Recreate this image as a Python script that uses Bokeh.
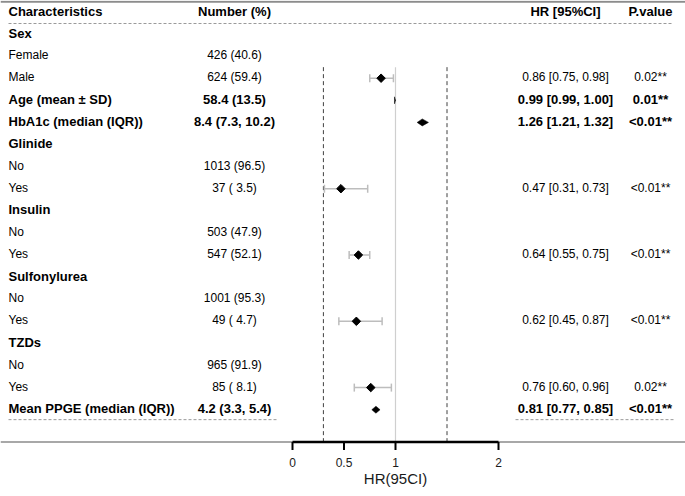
import math
from bokeh.plotting import figure
from bokeh.models import Range1d
from bokeh.embed import file_html
from bokeh.resources import INLINE
from bokeh.core.properties import value

# ---------------- data ----------------
headers = ["Characteristics", "Number (%)", "HR [95%CI]", "P.value"]
labels = ["Sex", "Female", "Male", "Age (mean ± SD)", "HbA1c (median (IQR))",
          "Glinide", "No", "Yes", "Insulin", "No", "Yes",
          "Sulfonylurea", "No", "Yes", "TZDs", "No", "Yes",
          "Mean PPGE (median (IQR))"]
row_kind = ["group", "level", "level", "summary", "summary",
            "group", "level", "level", "group", "level", "level",
            "group", "level", "level", "group", "level", "level",
            "summary"]
numbers = ["", "426 (40.6)", "624 (59.4)", "58.4 (13.5)", "8.4 (7.3, 10.2)",
           "", "1013 (96.5)", "37 ( 3.5)", "", "503 (47.9)", "547 (52.1)",
           "", "1001 (95.3)", "49 ( 4.7)", "", "965 (91.9)", "85 ( 8.1)",
           "4.2 (3.3, 5.4)"]
nan = float("nan")
hr = [nan, nan, 0.86, 0.99, 1.26, nan, nan, 0.47, nan, nan, 0.64,
      nan, nan, 0.62, nan, nan, 0.76, 0.81]
hr_lo = [nan, nan, 0.75, 0.99, 1.21, nan, nan, 0.31, nan, nan, 0.55,
         nan, nan, 0.45, nan, nan, 0.60, 0.77]
hr_hi = [nan, nan, 0.98, 1.00, 1.32, nan, nan, 0.73, nan, nan, 0.75,
         nan, nan, 0.87, nan, nan, 0.96, 0.85]
pvals = ["", "", "0.02**", "0.01**", "<0.01**", "", "", "<0.01**", "", "",
         "<0.01**", "", "", "<0.01**", "", "", "0.02**", "<0.01**"]
axis_ticks = [0, 0.5, 1, 2]
axis_tick_labels = ["0", "0.5", "1", "2"]
ref_value = 1
dashed_refs = [0.3, 1.5]
axis_title = "HR(95CI)"

# ---------------- layout helpers ----------------
FONT = value("Liberation Sans")
PX0, PXU = 292.0, 103.0     # x pixel of HR = 0, pixels per HR unit
PY0, PYU = 11.4, 22.1       # y pixel of row 0, pixels per row
W, H = 685, 496


def hx(px):
    return (px - PX0) / PXU


def ry(py):
    return (py - PY0) / PYU


p = figure(width=W, height=H, output_backend="svg", toolbar_location=None,
           x_range=Range1d(hx(0), hx(W)), y_range=Range1d(ry(H), ry(0)),
           x_axis_type=None, y_axis_type=None, min_border=0,
           outline_line_color=None, background_fill_color="white",
           border_fill_color="white")
p.grid.visible = False

n = len(labels)
rows = list(range(1, n + 1))
hdr_y = ry(12.3)

X_CHAR = hx(8)
X_NUM = hx(234)
X_HR = hx(565)
X_P = hx(650)
XL, XR = hx(0), hx(W)
TY = -1  # text nudge (px)

# ---------------- lines ----------------
p.segment(x0=[XL], y0=[ry(1.2)], x1=[XR], y1=[ry(1.2)], line_color="#8c8c8c", line_width=2)
p.segment(x0=[hx(8)], y0=[ry(23)], x1=[hx(673)], y1=[ry(23)],
          line_color="#9a9a9a", line_width=1, line_dash="3 2")
bot = rows[-1] + 0.45
p.segment(x0=[hx(8), hx(515)], y0=[bot, bot], x1=[hx(277), hx(673)], y1=[bot, bot],
          line_color="#9a9a9a", line_width=1, line_dash="3 2")

axis_row = ry(441.5)
plot_top = 2.5
p.segment(x0=dashed_refs, y0=[plot_top] * 2, x1=dashed_refs, y1=[axis_row] * 2,
          line_color="#404040", line_width=1, line_dash="4 3")
p.segment(x0=[ref_value], y0=[plot_top], x1=[ref_value], y1=[axis_row],
          line_color="#cfcfcf", line_width=1.2)

# axis
p.segment(x0=[XL], y0=[axis_row], x1=[XR], y1=[axis_row], line_color="#a8a8a8", line_width=2)
p.segment(x0=[min(axis_ticks)], y0=[axis_row], x1=[max(axis_ticks)], y1=[axis_row],
          line_color="black", line_width=2.5)
tick_len = 8 / PYU
p.segment(x0=axis_ticks, y0=[axis_row] * len(axis_ticks), x1=axis_ticks,
          y1=[axis_row + tick_len] * len(axis_ticks), line_color="black", line_width=2)
p.text(x=axis_ticks, y=[ry(463)] * len(axis_ticks), text=axis_tick_labels,
       text_font=FONT, text_font_size="12px", text_align="center", y_offset=TY,
       text_baseline="middle", text_color="#1a1a1a")
p.text(x=[ref_value], y=[ry(479)], text=[axis_title], text_font=FONT,
       text_font_size="15px", text_align="center", text_baseline="middle",
       text_color="#1a1a1a", y_offset=TY)

# ---------------- forest marks ----------------
cap = 4 / PYU
half_h = 3.5 / PYU
e_y, e_lo, e_hi, e_hr = [], [], [], []
s_xs, s_ys = [], []
for r, k, m, l, u in zip(rows, row_kind, hr, hr_lo, hr_hi):
    if math.isnan(m):
        continue
    if k == "summary":
        s_xs.append([l, m, u, m])
        s_ys.append([r, r - half_h, r, r + half_h])
    else:
        e_y.append(r); e_lo.append(l); e_hi.append(u); e_hr.append(m)

p.segment(x0=e_lo, y0=e_y, x1=e_hi, y1=e_y, line_color="#bdbdbd", line_width=1.5)
p.segment(x0=e_lo, y0=[y - cap for y in e_y], x1=e_lo, y1=[y + cap for y in e_y],
          line_color="#bdbdbd", line_width=1.5)
p.segment(x0=e_hi, y0=[y - cap for y in e_y], x1=e_hi, y1=[y + cap for y in e_y],
          line_color="#bdbdbd", line_width=1.5)
p.scatter(x=e_hr, y=e_y, marker="square", angle=math.pi / 4, size=6,
          fill_color="black", line_color="black")
p.patches(xs=s_xs, ys=s_ys, fill_color="black", line_color="black", line_width=0.5)

# ---------------- texts ----------------
hr_text = ["" if math.isnan(m) else f"{m:.2f} [{l:.2f}, {u:.2f}]"
           for m, l, u in zip(hr, hr_lo, hr_hi)]


def put(xs, ys, texts, align, bold, size):
    p.text(x=xs, y=ys, text=texts, text_font=FONT, text_font_size=size,
           text_align=align, text_baseline="middle", text_color="black", y_offset=TY,
           text_font_style="bold" if bold else "normal")


# header
put([X_CHAR], [hdr_y], [headers[0]], "left", True, "13px")
put([X_NUM, X_HR, X_P], [hdr_y] * 3, headers[1:], "center", True, "13px")

for bold in (False, True):
    sel = [i for i in range(n) if (row_kind[i] != "level") == bold]
    sz = "13px" if bold else "12px"
    put([X_CHAR] * len(sel), [rows[i] for i in sel], [labels[i] for i in sel], "left", bold, sz)
    sel2 = [i for i in sel if numbers[i]]
    put([X_NUM] * len(sel2), [rows[i] for i in sel2], [numbers[i] for i in sel2], "center", bold, sz)
    sel3 = [i for i in sel if hr_text[i]]
    put([X_HR] * len(sel3), [rows[i] for i in sel3], [hr_text[i] for i in sel3], "center", bold, sz)
    put([X_P] * len(sel3), [rows[i] for i in sel3], [pvals[i] for i in sel3], "center", bold, sz)

open("out.html", "w").write(file_html(p, INLINE))
